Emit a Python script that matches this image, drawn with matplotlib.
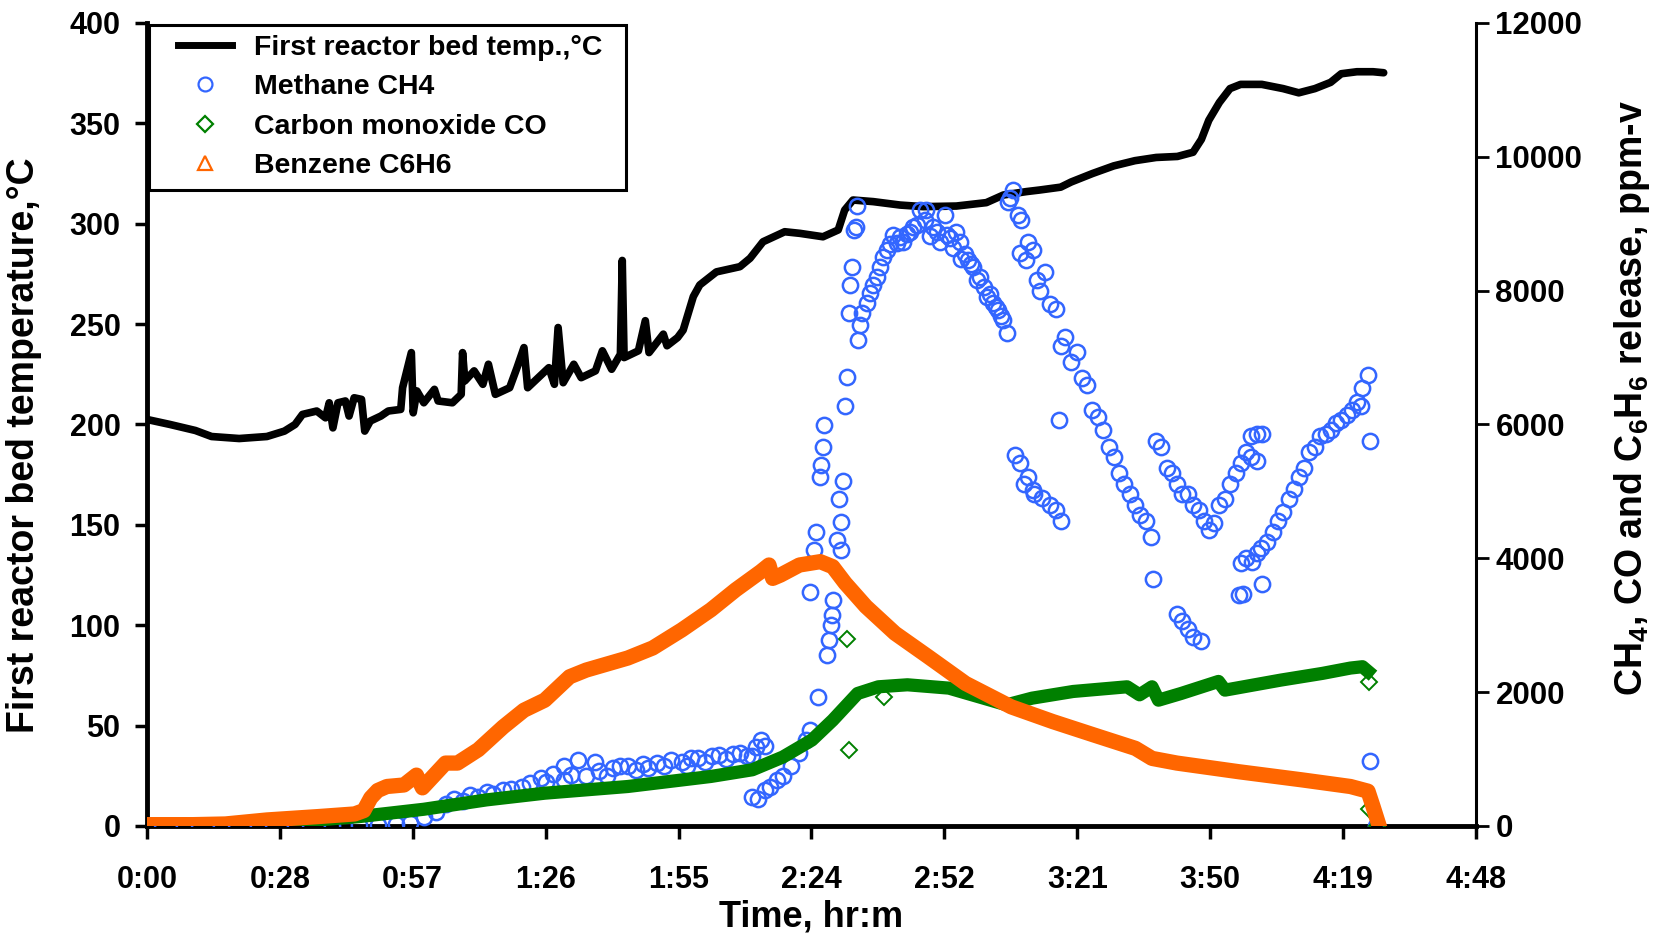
import matplotlib
matplotlib.use("Agg")
import matplotlib.pyplot as plt
from matplotlib.lines import Line2D
from matplotlib.patches import Rectangle

# Time axis (minutes) and its hr:m labels
time_ticks = [0, 28.8, 57.6, 86.4, 115.2, 144, 172.8, 201.6, 230.4, 259.2, 288]
time_labels = ['0:00', '0:28', '0:57', '1:26', '1:55', '2:24', '2:52', '3:21', '3:50', '4:19', '4:48']

# First reactor bed temperature, deg C
temp_min = [0, 5, 10.5, 14, 20, 26, 29.8, 32.1, 33.7, 36.8, 38.7, 39.5, 40.3, 41.4, 43, 43.8,
            44.9, 46.5, 47.2, 48.4, 50.7, 52.3, 55, 55.4, 57.3, 57.7, 58.5, 60, 62.3, 63.1, 66.2,
            68.1, 68.4, 68.9, 70.9, 72.8, 74, 75.5, 78.6, 80.2, 81.7, 82.5, 84.8, 87.1, 88.3, 89.1,
            90.2, 92.5, 94.1, 97.2, 98.7, 100.7, 102.6, 103, 103.4, 106.5, 108, 108.8, 111.9, 112.7,
            115, 116.2, 118.4, 119.8, 123.4, 128.5, 130.7, 133.5, 138.2, 141.5, 146.5, 149.8, 151.2,
            153, 157.4, 163.2, 168.2, 175.4, 181.9, 185.6, 190.6, 193.5, 198, 200.3, 204.9, 209.5,
            214.1, 218.7, 223.3, 226.7, 228.5, 230.1, 232.4, 234.7, 237, 241.6, 246.2, 249.6, 253.1,
            256.5, 258.8, 262.2, 265.7, 268]
temp_c = [202.5, 200, 197, 194, 193, 194, 196.7, 200, 205, 206.7, 203.3, 210.8, 198.3, 210.8, 211.7,
          204.2, 213.3, 212.5, 196.7, 201.7, 204.2, 206.7, 207.5, 218.3, 235.8, 205.8, 216.7, 210.8,
          217.5, 211.7, 210.8, 215, 235.8, 221.7, 226.7, 220, 230, 215, 218.3, 228.3, 238.3, 218.3,
          223.3, 228.3, 220, 248.3, 220.8, 230, 223.3, 226.7, 236.7, 227.5, 235, 281.7, 233.3, 236.7,
          251.7, 235.8, 245, 239.2, 243.3, 247, 263.7, 269.5, 276, 278.6, 282.8, 291, 296, 295.2,
          293.5, 296.9, 306.8, 311.8, 311, 309.3, 308.5, 308.8, 310.5, 314.3, 316, 316.8, 318.2, 320.8,
          325, 328.8, 331.4, 333, 333.5, 335.6, 342, 351.5, 360.4, 367.3, 369.4, 369.4, 367.3, 365.2,
          367.3, 370.4, 374.7, 375.7, 375.7, 375.2]

# Methane CH4, ppm-v
ch4_min = [0, 8, 16, 24, 32, 40, 46, 50, 54, 57, 60, 62.6, 64.9, 66.5, 68.4, 70, 71.8, 73.6, 75, 77.2,
           79, 81.3, 83, 85.3, 86.5, 88, 90.3, 90.3, 92, 93.4, 95.2, 97, 98, 99.7, 101, 102.5, 104.2,
           106, 107.5, 108.5, 110.5, 112, 113.5, 115.9, 117, 118, 119.5, 121, 122.5, 124, 125.5, 127,
           128.5, 130, 131.2, 132, 133, 133.9,
           131.2, 132.4, 134, 135.1, 136.6, 137.8, 139.5, 141.4, 142.8, 143.7, 145.5,
           147.3, 147.7, 148.2, 148.4, 148.6, 143.7, 144.5, 145, 149.5, 150.4, 150.4, 150, 150.9,
           145.8, 146, 146.4, 146.8, 151.2, 151.6, 154.1, 154.5, 154.9, 152.2, 152.3, 152.7, 153.3,
           153.6, 153.9,
           156, 156.7, 157.4, 158.1, 158.8, 159.5, 160.3, 161, 161.7, 162.5, 163.2, 163.9, 164.6,
           165.3, 166, 166.8, 167.5, 168.6, 168.9, 169.7, 170.4, 171.1, 171.8, 172.9, 173.3, 174,
           174.7, 175.4, 176.2, 176.5, 177.3, 178, 178.6, 179.1, 179.8, 180.5, 181.3, 182, 182.7,
           183.4, 184, 184.5, 185, 185.6, 186.3,
           186.6, 187, 187.7, 188.8, 189.5, 189.2, 190.6, 191, 192, 192.8, 193.6, 194.6, 195.7, 196.9,
           198, 199, 200.3, 201.5, 202.6, 203.8, 204.9, 206.1, 207.2, 208.4, 209.5, 210.6, 211.8,
           213, 214.1, 215.2, 216.4, 217.5,
           188.1, 189.2, 190, 191, 192, 192.3, 194, 195.7, 196.9, 198,
           197.6, 218, 223.3, 224.4, 225.5, 226.7, 228.5,
           218.7, 219.8, 221, 222.1, 223.3, 224.4, 225.6, 226.7, 227.9, 229, 230.2, 231.3, 232.4,
           233.6, 234.7, 235.9, 237, 238.2, 239.3, 240.5, 241.6, 239.3, 240.5,
           236.6, 237.5, 241.6, 237, 238.2, 239.5, 240.5, 241.5, 242.8, 244, 245.1, 246.2, 247.4,
           248.5, 249.6, 250.8, 251.9, 253.1, 254.2, 255.4, 256.5, 257.7, 258.8, 260, 261.1, 262.3,
           263, 263.4, 264.6,
           265, 265, 266.4]
ch4_ppm = [0, 0, 0, 0, 0, 0, 10, 20, 30, 50, 130, 210, 330, 410, 370, 460, 440, 510, 480, 540,
           560, 590, 640, 710, 660, 780, 890, 690, 760, 990, 740, 960, 820, 740, 860, 900, 890,
           830, 920, 860, 940, 900, 980, 960, 900, 1010, 1010, 950, 1040, 1060, 1000, 1080,
           1090, 1040, 1040, 1180, 1290, 1190,
           440, 400, 540, 590, 690, 740, 900, 1090, 1290, 1440, 1920,
           2560, 2780, 3000, 3150, 3380, 3500, 4120, 4390, 4270, 4120, 4550, 4880, 5150,
           5220, 5390, 5670, 5990, 6270, 6710, 7260, 7490, 7660, 7660, 8080, 8350, 8910,
           8950, 9270,
           7810, 7960, 8080, 8210, 8350, 8510, 8610, 8700, 8830, 8710, 8800, 8730, 8850,
           8880, 8950, 8980, 9210, 9060, 9210, 8810, 8950, 8880, 8730, 9130, 8830, 8780,
           8630, 8880, 8730, 8480, 8550, 8460, 8400, 8360, 8160, 8200, 8060, 7910, 7950,
           7810, 7760, 7710, 7620, 7560, 7360,
           9330, 9380, 9500, 9130, 9060, 8560, 8460, 8730, 8610, 8160, 8000, 8280, 7800, 7730,
           7170, 7300, 6930, 7090, 6700, 6590, 6220, 6110, 5910, 5670, 5510, 5270, 5110,
           4960, 4800, 4640, 4560, 4320,
           5540, 5420, 5110, 5220, 5020, 4960, 4900, 4800, 4720, 4560,
           6060, 3690, 3170, 3060, 2950, 2820, 2770,
           5750, 5670, 5350, 5270, 5110, 4960, 4960, 4800, 4720, 4560, 4430, 4530, 4800,
           4880, 5110, 5270, 5430, 5590, 5830, 5860, 5860, 5510, 5460,
           3450, 3470, 3610, 3930, 4010, 3950, 4080, 4150, 4240, 4400, 4560, 4690, 4880,
           5030, 5220, 5350, 5590, 5670, 5830, 5860, 5910, 6020, 6060, 6140, 6220, 6330,
           6270, 6540, 6740,
           5750, 970, 0]

# Carbon monoxide CO, ppm-v
co_min = [0, 17, 25, 37, 46, 60, 73.6, 86.2, 104.2, 122.2, 131.2, 137.8, 144.1, 148.6, 151.3, 154,
          158.5, 164.8, 173.8, 182.8, 186.3, 191.8, 200.7, 212.4, 215.1, 217.8, 219.2, 224.1, 232.2,
          233.6, 245.7, 254.7, 260.8, 263.4, 264.6]
co_ppm = [0, 0, 20, 90, 140, 250, 390, 490, 590, 740, 840, 1030, 1285, 1580, 1780, 1980, 2080, 2110,
          2060, 1880, 1810, 1910, 2010, 2080, 1960, 2080, 1880, 1980, 2160, 2030, 2180, 2280, 2360,
          2380, 2310]
co_out_min = [151.7, 152.2, 159.8, 264.8, 264.8, 266.5]
co_out_ppm = [2800, 1130, 1930, 2150, 250, 0]

# Benzene C6H6, ppm-v
c6_min = [0, 10, 17, 26, 37, 45, 47, 48.5, 50, 52, 55.7, 58.4, 59.7, 64.7, 67.3, 71.8, 77.2, 81.7,
          86.2, 91.6, 95.2, 104.2, 109.6, 115.9, 122.2, 127.6, 133, 134.8, 135.6, 137.3, 141.4, 145.9,
          148.6, 151.3, 155.8, 162.1, 169.3, 177.4, 187.3, 196.3, 205.2, 214.2, 217.8, 223.2, 236.7,
          250.2, 260.8, 264.6, 265.7, 266.8]
c6_ppm = [20, 20, 30, 90, 140, 180, 230, 420, 530, 590, 613, 760, 570, 940, 940, 1140, 1480, 1730,
          1880, 2230, 2330, 2510, 2660, 2930, 3230, 3530, 3800, 3900, 3700, 3750, 3900, 3950, 3875,
          3630, 3280, 2880, 2530, 2130, 1780, 1560, 1360, 1160, 1010, 940, 810, 690, 590, 520, 290, 50]

BLUE = '#3366FF'
GREEN = '#008000'
ORANGE = '#FF6600'

plt.rcParams['font.family'] = ['Liberation Sans', 'DejaVu Sans']
plt.rcParams['font.weight'] = 'bold'
plt.rcParams['axes.labelweight'] = 'bold'
plt.rcParams['mathtext.fontset'] = 'custom'
plt.rcParams['mathtext.rm'] = 'Liberation Sans:bold'
plt.rcParams['mathtext.bf'] = 'Liberation Sans:bold'
plt.rcParams['mathtext.it'] = 'Liberation Sans:bold'

fig = plt.figure(figsize=(16.64, 9.33), dpi=100)
ax = fig.add_axes([0.0883, 0.1147, 0.7987, 0.8607])
ax2 = ax.twinx()

# temperature on the left axis
ax.plot(temp_min, temp_c, color='black', lw=5.5, solid_joinstyle='round', solid_capstyle='round')

# gas concentrations on the right axis
ax2.plot(ch4_min, ch4_ppm, ls='none', marker='o', ms=11, mfc='none', mec=BLUE, mew=1.8)
ax2.plot(co_min, co_ppm, color=GREEN, lw=9.5, solid_joinstyle='round')
ax2.plot(co_out_min, co_out_ppm, ls='none', marker='D', ms=8, mfc='none', mec=GREEN, mew=1.4)
ax2.plot(c6_min, c6_ppm, color=ORANGE, lw=11, solid_joinstyle='round')

ax.set_xlim(0, 288)
ax.set_ylim(0, 400)
ax2.set_ylim(0, 12000)
ax.set_xticks(time_ticks)
ax.set_xticklabels(time_labels)
ax.set_yticks(range(0, 401, 50))
ax2.set_yticks(range(0, 12001, 2000))

ax.tick_params(axis='x', direction='out', length=9, width=2.5, pad=19, labelsize=22)
ax.tick_params(axis='y', direction='out', length=9, width=2.5, pad=10, labelsize=22)
ax2.tick_params(axis='y', direction='out', length=9, width=2, pad=5, labelsize=22.5)

ax.spines['top'].set_visible(False)
ax.spines['right'].set_visible(False)
ax.spines['left'].set_linewidth(3.5)
ax.spines['bottom'].set_linewidth(3.5)
for s in ['top', 'left', 'bottom']:
    ax2.spines[s].set_visible(False)
ax2.spines['right'].set_linewidth(2.2)

ax.set_xlabel('Time, hr:m', fontsize=26, fontweight='bold')
ax.xaxis.set_label_coords(0.5, -0.091)
ax.set_ylabel('First reactor bed temperature,°C', fontsize=27, fontweight='bold')
ax.yaxis.set_label_coords(-0.0786, 0.4736)
ax2.set_ylabel(r'CH$_\mathbf{4}$, CO and C$_\mathbf{6}$H$_\mathbf{6}$ release, ppm-v',
               fontsize=27, fontweight='bold')
ax2.yaxis.set_label_coords(1.102, 0.533)

handles = [
    Line2D([], [], color='black', lw=5),
    Line2D([], [], ls='none', marker='o', ms=10, mfc='none', mec=BLUE, mew=1.6),
    Line2D([], [], ls='none', marker='D', ms=8, mfc='none', mec=GREEN, mew=1.6),
    Line2D([], [], ls='none', marker='^', ms=10, mfc='none', mec=ORANGE, mew=1.6),
]
labels = ['First reactor bed temp.,°C', 'Methane CH4', 'Carbon monoxide CO', 'Benzene C6H6']
ax2.legend(handles, labels, loc='upper left', bbox_to_anchor=(0.0233, 0.985), frameon=False,
           borderpad=0, borderaxespad=0, handlelength=1.9, handletextpad=0.78, labelspacing=0.47,
           prop={'weight': 'bold', 'size': 20.5})
ax2.add_patch(Rectangle((0.0015, 0.792), 0.359, 0.2055, transform=ax2.transAxes, fill=False,
                        ec='black', lw=2.2, clip_on=False, zorder=6))

fig.savefig('out.png', dpi=100)
